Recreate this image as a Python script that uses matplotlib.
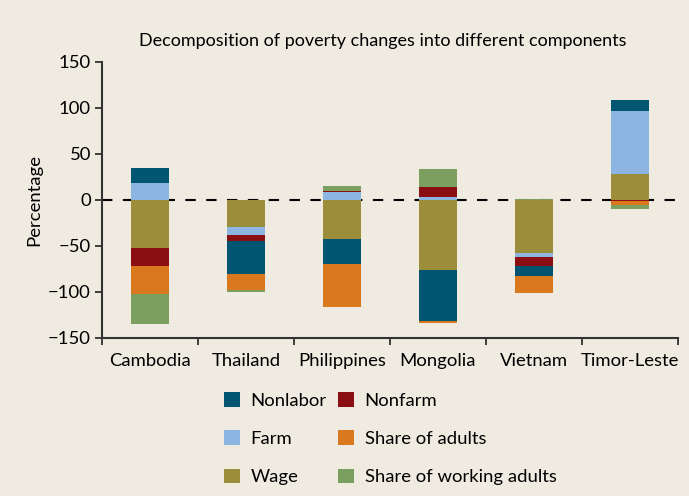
import matplotlib.pyplot as plt
import numpy as np

countries = ["Cambodia", "Thailand", "Philippines", "Mongolia", "Vietnam", "Timor-Leste"]

# stacking order as drawn (Wage first, nearest the zero line)
wage = [-52.2, -29.3, -42.4, -76.1, -57.6, 28.3]
farm = [18.5, -8.7, 8.7, 3.3, -4.3, 68.5]
nonfarm = [-19.6, -6.9, 1.1, 10.9, -9.8, -1.1]
nonlabor = [16.3, -35.5, -27.2, -55.4, -10.9, 12.0]
share_adults = [-30.4, -17.4, -46.7, -2.2, -18.5, -4.3]
share_working = [-32.6, -2.2, 5.4, 19.6, 1.0, -4.0]

series = [
    ("Wage", wage, "#9c8d3b"),
    ("Farm", farm, "#8db5e2"),
    ("Nonfarm", nonfarm, "#8b0e13"),
    ("Nonlabor", nonlabor, "#005670"),
    ("Share of adults", share_adults, "#d9781c"),
    ("Share of working adults", share_working, "#7a9f5f"),
]

bg = "#efebe1"
fs = 13.3
plt.rcParams["font.family"] = ["Lato", "DejaVu Sans"]

fig = plt.figure(figsize=(6.89, 4.96), dpi=100, facecolor=bg)
ax = fig.add_axes([0.148, 0.319, 0.836, 0.556])
ax.set_facecolor(bg)

x = np.arange(len(countries))
pos_base = np.zeros(len(countries))
neg_base = np.zeros(len(countries))
handles = {}
for name, vals, color in series:
    vals = np.array(vals)
    bottom = np.where(vals >= 0, pos_base, neg_base)
    h = ax.bar(x, vals, width=0.4, bottom=bottom, color=color, label=name, zorder=3)
    handles[name] = h
    pos_base += np.where(vals >= 0, vals, 0)
    neg_base += np.where(vals < 0, vals, 0)

ax.axhline(0, color="black", lw=1.5, ls=(0, (5, 5)), zorder=1)

ax.set_xlim(-0.5, 5.5)
ax.set_ylim(-150, 150)
ax.set_yticks(np.arange(-150, 151, 50))
ax.set_xticks(np.arange(-0.5, 6, 1))
ax.set_xticklabels([])
ax.set_xticks(x, minor=True)
ax.set_xticklabels(countries, minor=True, fontsize=fs)
ax.tick_params(axis="x", which="minor", length=0, pad=11)
ax.tick_params(axis="x", which="major", length=5, width=1.3, color="#333333")
ax.tick_params(axis="y", length=5, width=1.3, color="#333333", labelsize=fs, pad=3)

for s in ["top", "right"]:
    ax.spines[s].set_visible(False)
for s in ["left", "bottom"]:
    ax.spines[s].set_linewidth(1.5)
    ax.spines[s].set_color("#333333")

ax.set_ylabel("Percentage", fontsize=fs, labelpad=4)
fig.text(0.555, 0.918, "Decomposition of poverty changes into different components",
         ha="center", va="center", fontsize=13)

order = ["Nonlabor", "Farm", "Wage", "Nonfarm", "Share of adults", "Share of working adults"]
fig.legend([handles[n] for n in order], order, ncol=2, frameon=False,
           loc="upper left", bbox_to_anchor=(0.325, 0.21), fontsize=fs,
           handlelength=0.85, handleheight=0.85, labelspacing=1.17, columnspacing=0.6,
           handletextpad=0.6, borderaxespad=0, borderpad=0)

fig.savefig("out.png", dpi=100, facecolor=bg)
